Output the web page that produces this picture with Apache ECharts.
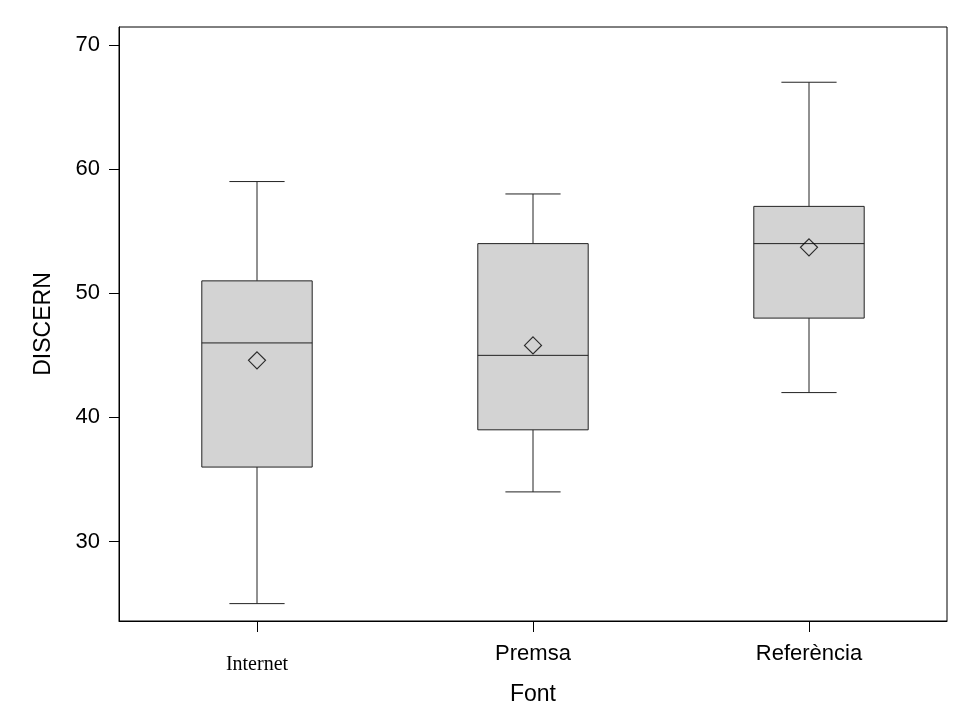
<!DOCTYPE html>
<html>
<head>
<meta charset="utf-8">
<style>
  html, body { margin: 0; padding: 0; background: #fff; }
  #chart { width: 953px; height: 719px; }
</style>
<script src="https://cdn.jsdelivr.net/npm/echarts@6/dist/echarts.min.js"></script>
</head>
<body>
<div id="chart"></div>
<script>
// Five-number summaries of DISCERN score by information source
const categories = ['Internet', 'Premsa', 'Referència'];
const minVals    = [25, 34, 42];
const q1Vals     = [36, 39, 48];
const medianVals = [46, 45, 54];
const q3Vals     = [51, 54, 57];
const maxVals    = [59, 58, 67];
const meanVals   = [44.6, 45.8, 53.7];
const yTicks     = [30, 40, 50, 60, 70];

const SANS = '"Liberation Sans", Arial, Helvetica, sans-serif';
const SERIF = '"Liberation Serif", "Times New Roman", serif';

const boxData = categories.map((c, i) => [i, minVals[i], q1Vals[i], medianVals[i], q3Vals[i], maxVals[i]]);
const meanData = categories.map((c, i) => [i, meanVals[i]]);

const LINE = '#222';

function renderBox(params, api) {
  const idx = api.value(0);
  const band = api.size([1, 0])[0];
  const boxW = band * 0.4;
  const capW = band * 0.2;
  const pMin = api.coord([idx, api.value(1)]);
  const pQ1 = api.coord([idx, api.value(2)]);
  const pMed = api.coord([idx, api.value(3)]);
  const pQ3 = api.coord([idx, api.value(4)]);
  const pMax = api.coord([idx, api.value(5)]);
  const cx = pMed[0];
  const lineStyle = { stroke: LINE, lineWidth: 1, fill: null };
  const line = (x1, y1, x2, y2) => ({ type: 'line', shape: { x1, y1, x2, y2 }, style: lineStyle });
  return {
    type: 'group',
    children: [
      line(cx, pQ3[1], cx, pMax[1]),
      line(cx, pQ1[1], cx, pMin[1]),
      line(cx - capW / 2, pMax[1], cx + capW / 2, pMax[1]),
      line(cx - capW / 2, pMin[1], cx + capW / 2, pMin[1]),
      {
        type: 'rect',
        shape: { x: cx - boxW / 2, y: pQ3[1], width: boxW, height: pQ1[1] - pQ3[1] },
        style: { fill: '#d3d3d3', stroke: LINE, lineWidth: 1 }
      },
      line(cx - boxW / 2, pMed[1], cx + boxW / 2, pMed[1])
    ]
  };
}

const chart = echarts.init(document.getElementById('chart'), null, { renderer: 'canvas' });
chart.setOption({
  animation: false,
  backgroundColor: '#ffffff',
  grid: {
    left: 119, right: 6, top: 27, bottom: 98,
    show: true, borderColor: '#000', borderWidth: 1, backgroundColor: 'transparent'
  },
  xAxis: {
    type: 'category',
    data: categories,
    boundaryGap: true,
    name: 'Font',
    nameLocation: 'middle',
    nameGap: 62,
    nameTextStyle: { fontFamily: SANS, fontSize: 23, color: '#000' },
    axisLine: { show: true, lineStyle: { color: '#000', width: 1 } },
    axisTick: { show: true, alignWithLabel: true, length: 11, lineStyle: { color: '#000' } },
    axisLabel: {
      margin: 22,
      color: '#000',
      formatter: function (v) {
        return v === 'Internet' ? '{serif|' + v + '}' : '{sans|' + v + '}';
      },
      rich: {
        sans: { fontFamily: SANS, fontSize: 22, color: '#000' },
        serif: { fontFamily: SERIF, fontSize: 20, color: '#000', padding: [12, 0, 0, 0] }
      }
    },
    splitLine: { show: false }
  },
  yAxis: {
    type: 'value',
    min: 23.6,
    max: 71.45,
    name: 'DISCERN',
    nameLocation: 'middle',
    nameGap: 64,
    nameTextStyle: { fontFamily: SANS, fontSize: 23, color: '#000' },
    axisLine: { show: true, lineStyle: { color: '#000', width: 1 } },
    axisTick: { show: true, length: 10, customValues: yTicks, lineStyle: { color: '#000' } },
    axisLabel: { margin: 19, customValues: yTicks, fontFamily: SANS, fontSize: 22, color: '#000' },
    splitLine: { show: false }
  },
  series: [
    {
      type: 'custom',
      renderItem: renderBox,
      data: boxData,
      encode: { x: 0, y: [1, 2, 3, 4, 5] },
      z: 2
    },
    {
      type: 'scatter',
      data: meanData,
      symbol: 'diamond',
      symbolSize: 17,
      itemStyle: { color: 'rgba(0,0,0,0)', borderColor: '#000', borderWidth: 1.2 },
      z: 3
    }
  ]
});
</script>
</body>
</html>
